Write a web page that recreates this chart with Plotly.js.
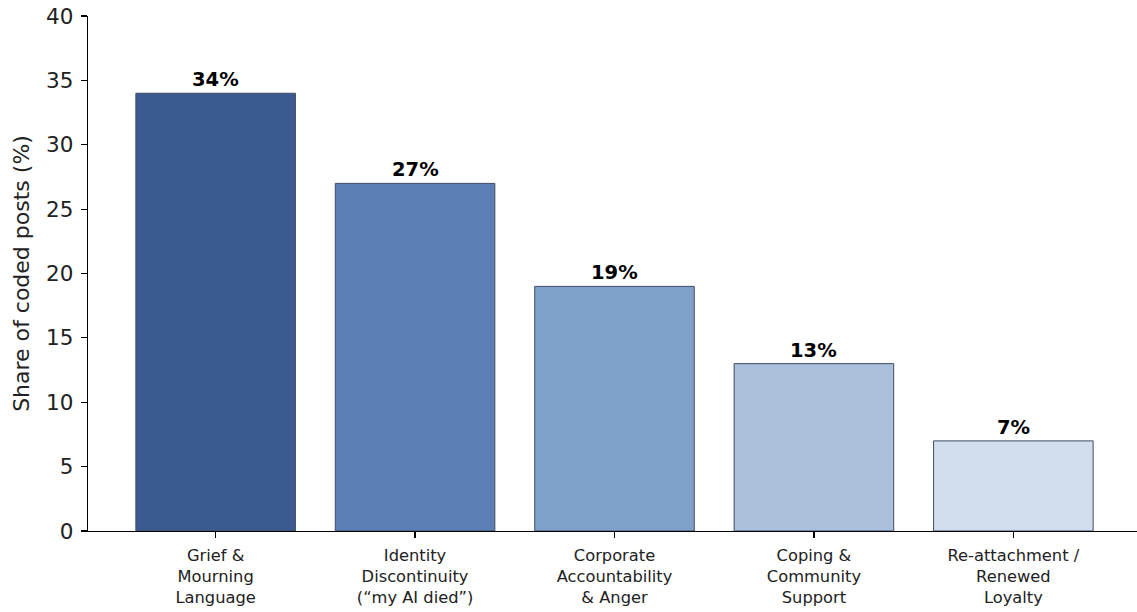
<!DOCTYPE html>
<html>
<head>
<meta charset="utf-8">
<script src="https://cdn.plot.ly/plotly-3.0.1.min.js"></script>
<style>html,body{margin:0;padding:0;background:#fff;}#chart{width:1137px;height:612px;}</style>
</head>
<body>
<div id="chart"></div>
<script>
const categories = [
  "Grief &<br>Mourning<br>Language",
  "Identity<br>Discontinuity<br>(“my AI died”)",
  "Corporate<br>Accountability<br>& Anger",
  "Coping &<br>Community<br>Support",
  "Re-attachment /<br>Renewed<br>Loyalty"
];
const shares = [34, 27, 19, 13, 7];
const barColors = ["#3b5a8f", "#5b7fb4", "#7fa1c9", "#a9bfda", "#d3deed"];
const yTicks = [0, 5, 10, 15, 20, 25, 30, 35, 40];

const xIdx = categories.map((_, i) => i);
const font = "DejaVu Sans, sans-serif";

const trace = {
  type: "bar",
  x: xIdx,
  y: shares,
  width: 0.8,
  marker: { color: barColors, line: { color: "#3d4b66", width: 1 } },
  hoverinfo: "none"
};

const annotations = shares.map((v, i) => ({
  x: i, y: v, xref: "x", yref: "y",
  text: "<b>" + v + "%</b>",
  showarrow: false, yanchor: "bottom", yshift: 0,
  font: { family: font, size: 19.5, color: "#000" }
}));

const layout = {
  width: 1137, height: 612,
  margin: { l: 88, r: 0, t: 16, b: 81 },
  paper_bgcolor: "#fff", plot_bgcolor: "#fff",
  showlegend: false,
  xaxis: {
    range: [-0.64, 4.62],
    tickvals: xIdx, ticktext: categories,
    ticks: "outside", ticklen: 6, tickwidth: 1.2, tickcolor: "#000",
    showline: true, linecolor: "#000", linewidth: 1.3,
    showgrid: false, zeroline: false,
    ticklabelstandoff: 3,
    tickfont: { family: font, size: 16.3, color: "#222" }
  },
  yaxis: {
    range: [0, 40],
    tickvals: yTicks,
    ticks: "outside", ticklen: 6, tickwidth: 1.2, tickcolor: "#000",
    showline: true, linecolor: "#000", linewidth: 1.3,
    showgrid: false, zeroline: false,
    ticklabelstandoff: 3,
    tickfont: { family: font, size: 21.5, color: "#222" },
    title: { text: "Share of coded posts (%)", font: { family: font, size: 22, color: "#222" }, standoff: 10 }
  },
  annotations: annotations
};

Plotly.newPlot("chart", [trace], layout, { displayModeBar: false, staticPlot: true });
</script>
</body>
</html>
